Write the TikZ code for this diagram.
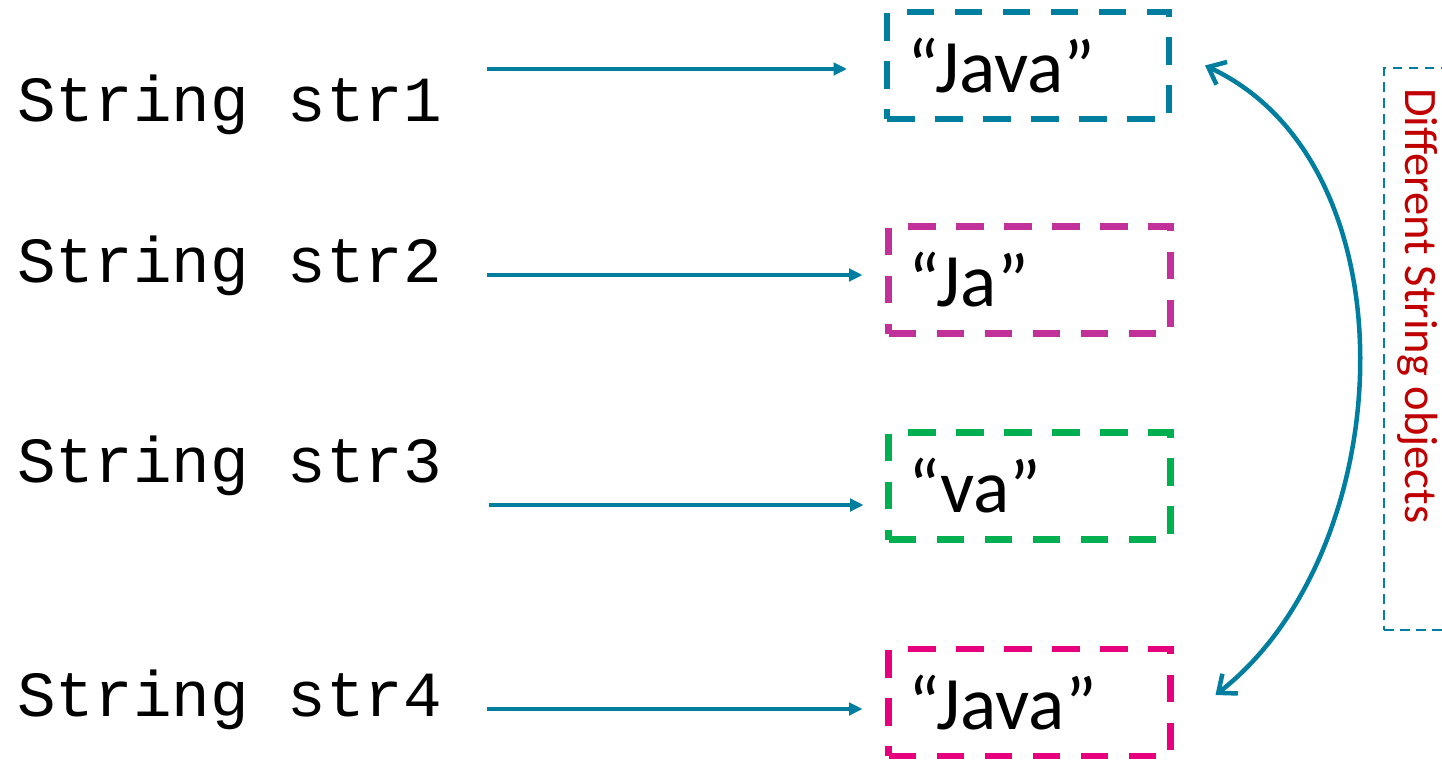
\documentclass[tikz,border=0pt]{standalone}
\usepackage{fontspec}
\setmonofont{Liberation Mono}
\newfontfamily\calibri{Carlito}
\usetikzlibrary{arrows.meta,positioning}
\definecolor{jteal}{RGB}{0,126,160}
\definecolor{jpurple}{RGB}{194,48,154}
\definecolor{jgreen}{RGB}{0,176,80}
\definecolor{jpink}{RGB}{230,0,126}
\definecolor{jred}{RGB}{192,0,0}
\tikzset{
  decl/.style={anchor=base west, inner sep=0pt, font=\ttfamily\fontsize{36.6}{40}\selectfont},
  strbox/.style={draw=#1, line width=0.13cm, dash pattern=on 0.55cm off 0.41cm, outer sep=0pt,
    inner xsep=0.4cm, text width=4.84cm, minimum height=2.14cm, align=left,
    font=\calibri\fontsize{43}{48}\selectfont},
  ptr/.style={jteal, line width=0.065cm, -{Triangle[length=0.27cm,width=0.25cm]}},
}
\begin{document}
\begin{tikzpicture}
\useasboundingbox (0,0) rectangle (28.84,15.2);
% variables
\node[decl] (s1) at (0.34,12.76) {String str1};
\node[decl] (s2) at (0.34,9.56) {String str2};
\node[decl] (s3) at (0.34,5.56) {String str3};
\node[decl] (s4) at (0.34,0.88) {String str4};

% objects
\node[strbox=jteal] (b1) at (20.56,13.89) {“Java”};
\node[strbox=jpurple] (b2) at (20.59,9.60) {“Ja”};
\node[strbox=jgreen] (b3) at (20.59,5.48) {“va”};
\node[strbox=jpink] (b4) at (20.59,1.15) {“Java”};

% references
\coordinate (a1) at (9.74,13.82);
\coordinate (a2) at (9.74,9.70);
\coordinate (a3) at (9.78,5.10);
\coordinate (a4) at (9.74,1.02);
\draw[ptr, shorten >=0.8cm] (a1) -- (a1 -| b1.west);
\draw[ptr, shorten >=0.52cm] (a2) -- (a2 -| b2.west);
\draw[ptr, shorten >=0.5cm] (a3) -- (a3 -| b3.west);
\draw[ptr, shorten >=0.52cm] (a4) -- (a4 -| b4.west);

\path (b1.east) ++(0.72,0) coordinate (t1);
\path (b4.east) ++(0.9,0.15) coordinate (t4);
\draw[jteal, line width=0.09cm, {Straight Barb[length=0.3cm,width=0.5cm]}-{Straight Barb[length=0.3cm,width=0.5cm]}]
  (t1) to[out=-25, in=38, looseness=0.95] (t4);

\node[draw=jteal, line width=0.04cm, dash pattern=on 0.19cm off 0.13cm, outer sep=0pt,
  minimum width=1.6cm, minimum height=11.24cm, anchor=north west] (frame) at (27.68,13.84) {};
\node[jred, rotate=-90, anchor=base west, inner sep=0pt, font=\calibri\fontsize{26.5}{30}\selectfont]
  (note) at (28.1,13.44) {Different String objects};
\end{tikzpicture}
\end{document}
